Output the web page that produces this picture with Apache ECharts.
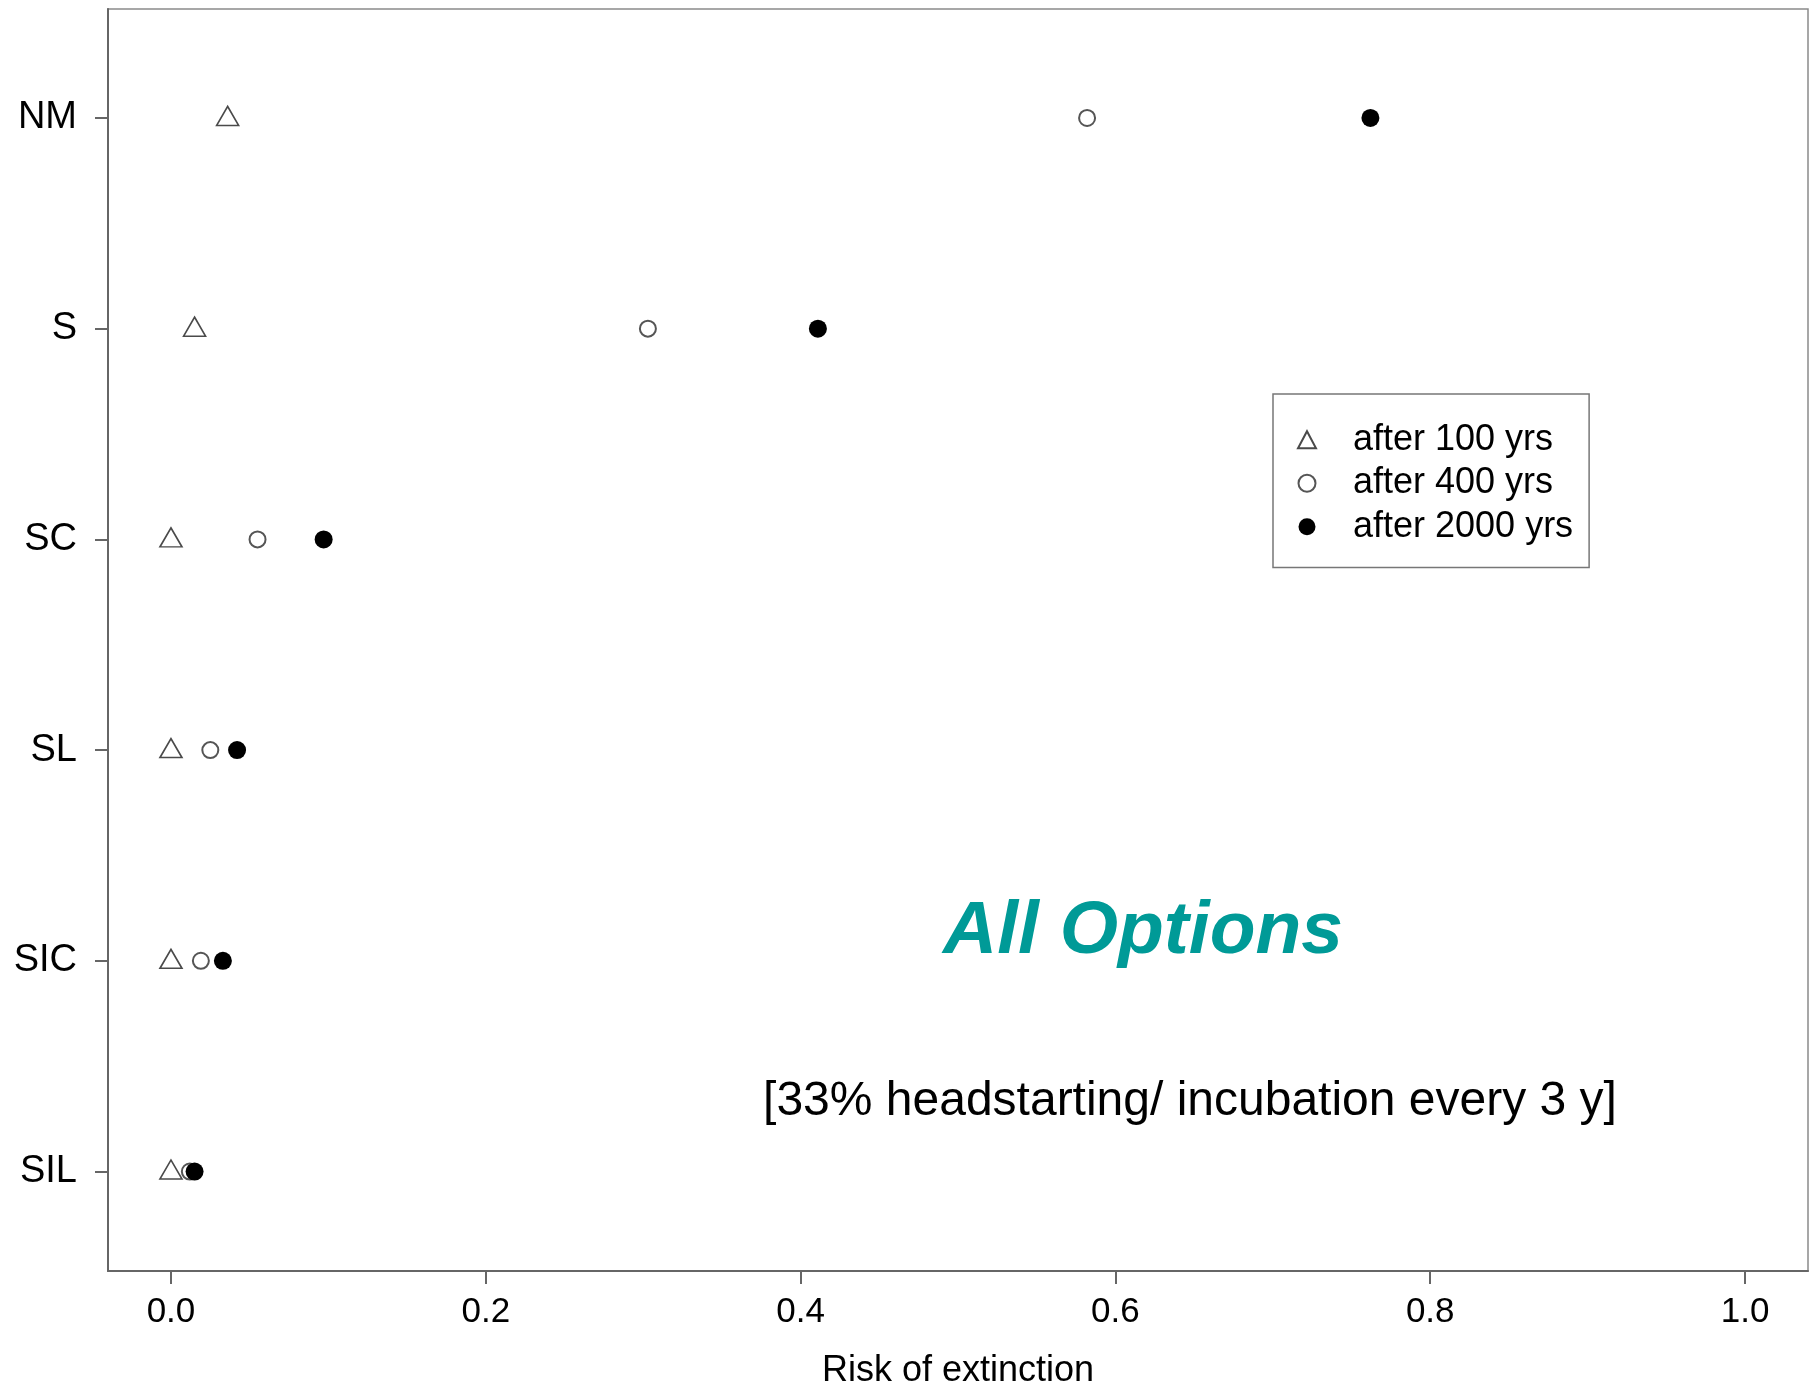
<!DOCTYPE html>
<html>
<head>
<meta charset="utf-8">
<title>Risk of extinction</title>
<script src="https://cdn.jsdelivr.net/npm/echarts@6/dist/echarts.min.js"></script>
<style>
  html, body { margin: 0; padding: 0; background: #ffffff; }
  #chart { width: 1818px; height: 1394px; }
</style>
</head>
<body>
<div id="chart"></div>
<script>
// Management scenarios, top to bottom
const scenarios = ['NM', 'S', 'SC', 'SL', 'SIC', 'SIL'];

// Risk of extinction per scenario at three time horizons
const after100 = [0.036, 0.015, 0.000, 0.000, 0.000, 0.000];
const after400 = [0.582, 0.303, 0.055, 0.025, 0.019, 0.012];
const after2000 = [0.762, 0.411, 0.097, 0.042, 0.033, 0.015];

const xTicks = [0, 0.2, 0.4, 0.6, 0.8, 1.0];
const seriesNames = ['after 100 yrs', 'after 400 yrs', 'after 2000 yrs'];

const FONT = "'Liberation Sans', Arial, Helvetica, sans-serif";

function toPoints(values) {
  return values.map((v, i) => [v, i]);
}

const chart = echarts.init(document.getElementById('chart'), null, { renderer: 'canvas' });

chart.setOption({
  backgroundColor: '#ffffff',
  animation: false,
  grid: {
    left: 108, right: 10, top: 9, bottom: 118,
    show: true,
    borderColor: '#8a8a8a',
    borderWidth: 1.5,
    containLabel: false
  },
  xAxis: {
    type: 'value',
    min: -0.04,
    max: 1.04,
    name: 'Risk of extinction',
    nameLocation: 'middle',
    nameGap: 82,
    nameTextStyle: { fontFamily: FONT, fontSize: 36, color: '#000' },
    axisLine: { show: true, onZero: false, lineStyle: { color: '#666', width: 2 } },
    axisTick: { show: true, inside: false, length: 13, customValues: xTicks, lineStyle: { color: '#666', width: 2 } },
    axisLabel: {
      customValues: xTicks,
      margin: 24,
      fontFamily: FONT, fontSize: 35, color: '#000',
      formatter: v => Number(v).toFixed(1)
    },
    splitLine: { show: false }
  },
  yAxis: {
    type: 'value',
    inverse: true,
    min: -0.517,
    max: 5.472,
    axisLine: { show: true, onZero: false, lineStyle: { color: '#666', width: 2 } },
    axisTick: { show: true, inside: false, length: 13, customValues: [0, 1, 2, 3, 4, 5], lineStyle: { color: '#666', width: 2 } },
    axisLabel: {
      customValues: [0, 1, 2, 3, 4, 5],
      margin: 31,
      fontFamily: FONT, fontSize: 38, color: '#000',
      formatter: v => scenarios[Math.round(v)] || ''
    },
    splitLine: { show: false }
  },
  legend: {
    orient: 'vertical',
    left: 1273,
    top: 394,
    padding: [24, 16, 19, 24],
    itemWidth: 18,
    itemHeight: 17,
    itemGap: 0,
    symbolKeepAspect: true,
    borderColor: '#777',
    borderWidth: 1.5,
    backgroundColor: '#fff',
    textStyle: { fontFamily: FONT, fontSize: 36, color: '#000', lineHeight: 43.5, padding: [0, 0, 0, 32] },
    data: seriesNames
  },
  series: [
    {
      name: seriesNames[0],
      type: 'scatter',
      symbol: 'triangle',
      symbolSize: [22, 19],
      symbolOffset: [0, -2],
      itemStyle: { color: 'rgba(255,255,255,0)', borderColor: '#4a4a4a', borderWidth: 1.6, opacity: 1 },
      data: toPoints(after100),
      z: 3
    },
    {
      name: seriesNames[1],
      type: 'scatter',
      symbol: 'circle',
      symbolSize: 16,
      itemStyle: { color: 'rgba(255,255,255,0)', borderColor: '#555', borderWidth: 2, opacity: 1 },
      data: toPoints(after400),
      z: 4
    },
    {
      name: seriesNames[2],
      type: 'scatter',
      symbol: 'circle',
      symbolSize: 18,
      itemStyle: { color: '#000', borderColor: '#000', borderWidth: 0, opacity: 1 },
      data: toPoints(after2000),
      z: 5
    }
  ],
  graphic: [
    {
      type: 'text',
      x: 1143, y: 932,
      style: {
        text: 'All Options',
        font: 'italic bold 75px ' + FONT,
        fill: '#009a97',
        align: 'center',
        verticalAlign: 'middle'
      }
    },
    {
      type: 'text',
      x: 1190, y: 1102,
      style: {
        text: '[33% headstarting/ incubation every 3 y]',
        font: '48px ' + FONT,
        fill: '#000',
        align: 'center',
        verticalAlign: 'middle'
      }
    }
  ]
});
</script>
</body>
</html>
